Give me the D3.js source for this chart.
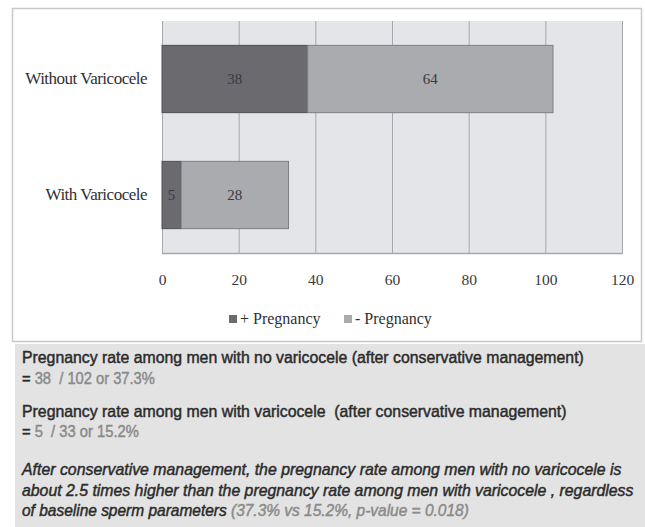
<!DOCTYPE html>
<html>
<head>
<meta charset="utf-8">
<script src="https://cdn.jsdelivr.net/npm/d3@7/dist/d3.min.js"></script>
<style>
  html, body { margin: 0; padding: 0; background: #ffffff; }
  svg { display: block; }
  .notes text { white-space: pre; }
</style>
</head>
<body>
<svg id="chart" width="645" height="527"></svg>
<script>
// Pregnancy outcomes after conservative management, by varicocele status
const categories = ["Without Varicocele", "With Varicocele"];
const positive = [38, 5];    // + Pregnancy
const negative = [64, 28];   // - Pregnancy
const seriesNames = ["+ Pregnancy", "- Pregnancy"];
const xTicks = [0, 20, 40, 60, 80, 100, 120];

const colors = { pos: "#6a6a6f", neg: "#a9abae", posStroke: "#4f4f55", negStroke: "#7d7f84" };

const svg = d3.select("#chart");

// outer chart frame
svg.append("rect")
  .attr("x", 12.5).attr("y", 8.5).attr("width", 629).attr("height", 333)
  .attr("fill", "#ffffff").attr("stroke", "#c8c8c8").attr("stroke-width", 1.5);

const plot = { left: 162, right: 622, top: 21, bottom: 253 };

const x = d3.scaleLinear().domain([0, 120]).range([plot.left, plot.right]);
const y = d3.scaleBand().domain(categories).range([plot.top, plot.bottom]).paddingInner(0.42).paddingOuter(0.21);

// plot background
svg.append("rect")
  .attr("x", plot.left).attr("y", plot.top)
  .attr("width", plot.right - plot.left).attr("height", plot.bottom - plot.top)
  .attr("fill", "#e4e5e9");

// vertical gridlines
svg.append("g").selectAll("line").data(xTicks).join("line")
  .attr("x1", d => x(d) + 0.5).attr("x2", d => x(d) + 0.5)
  .attr("y1", plot.top).attr("y2", plot.bottom)
  .attr("stroke", "#a7a8ae").attr("stroke-width", 1);

// bottom edge of plot
svg.append("line")
  .attr("x1", plot.left).attr("x2", plot.right + 1)
  .attr("y1", plot.bottom + 0.5).attr("y2", plot.bottom + 0.5)
  .attr("stroke", "#a7a8ae").attr("stroke-width", 1.5);

// stacked bars
const rows = categories.map((c, i) => ({ cat: c, pos: positive[i], neg: negative[i] }));
const bars = svg.append("g");
rows.forEach(r => {
  bars.append("rect")
    .attr("x", x(0)).attr("y", y(r.cat))
    .attr("width", x(r.pos) - x(0)).attr("height", y.bandwidth())
    .attr("fill", colors.pos).attr("stroke", colors.posStroke).attr("stroke-width", 1);
  bars.append("rect")
    .attr("x", x(r.pos)).attr("y", y(r.cat))
    .attr("width", x(r.pos + r.neg) - x(r.pos)).attr("height", y.bandwidth())
    .attr("fill", colors.neg).attr("stroke", colors.negStroke).attr("stroke-width", 1);
  // value labels
  bars.append("text")
    .attr("x", (x(0) + x(r.pos)) / 2).attr("y", y(r.cat) + y.bandwidth() / 2)
    .attr("dy", "0.35em").attr("text-anchor", "middle")
    .attr("font-family", "Liberation Serif, serif").attr("font-size", 15)
    .attr("fill", "#3a3a3e").text(r.pos);
  bars.append("text")
    .attr("x", (x(r.pos) + x(r.pos + r.neg)) / 2).attr("y", y(r.cat) + y.bandwidth() / 2)
    .attr("dy", "0.35em").attr("text-anchor", "middle")
    .attr("font-family", "Liberation Serif, serif").attr("font-size", 15)
    .attr("fill", "#3a3a3e").text(r.neg);
});

// category axis
const yAxis = svg.append("g")
  .attr("transform", `translate(${plot.left - 15},0)`)
  .call(d3.axisLeft(y).tickSize(0).tickPadding(0));
yAxis.select(".domain").remove();
yAxis.selectAll("text")
  .attr("font-family", "Liberation Serif, serif").attr("font-size", 17)
  .attr("fill", "#2f2f33").attr("letter-spacing", "-0.5");

// value axis
const xAxis = svg.append("g")
  .attr("transform", `translate(0,${plot.bottom})`)
  .call(d3.axisBottom(x).tickValues(xTicks).tickSize(0).tickPadding(21));
xAxis.select(".domain").remove();
xAxis.selectAll("text")
  .attr("font-family", "Liberation Serif, serif").attr("font-size", 15.5)
  .attr("fill", "#3a3a3e");

// legend
const legend = svg.append("g");
const legendItems = [
  { name: seriesNames[0], fill: colors.pos, x: 229, tx: 240 },
  { name: seriesNames[1], fill: colors.neg, x: 344, tx: 355 }
];
legendItems.forEach(it => {
  legend.append("rect").attr("x", it.x).attr("y", 315).attr("width", 8).attr("height", 8)
    .attr("fill", it.fill);
  legend.append("text").attr("x", it.tx).attr("y", 324)
    .attr("font-family", "Liberation Serif, serif").attr("font-size", 16)
    .attr("fill", "#2f2f33").text(it.name);
});

// notes panel
svg.append("rect")
  .attr("x", 15).attr("y", 344).attr("width", 630).attr("height", 183)
  .attr("fill", "#e3e3e3");

const rate = i => (100 * positive[i] / (positive[i] + negative[i])).toFixed(1) + "%";
const total = i => positive[i] + negative[i];

const notes = svg.append("g").attr("class", "notes")
  .attr("font-family", "Liberation Sans, Arial, sans-serif").attr("font-size", 16);
const dark = "#2b2b2b", grey = "#8a8a8a";

// each note line is fitted horizontally to its set width
function line(yPos, parts, opts = {}) {
  const t = notes.append("text").attr("x", 0).attr("y", 0)
    .attr("stroke-width", 0.45).attr("paint-order", "fill");
  if (opts.italic) t.attr("font-style", "italic");
  parts.forEach(p => {
    t.append("tspan").attr("fill", p.c).attr("stroke", p.c).text(p.s);
  });
  const natural = t.node().getComputedTextLength();
  const sx = opts.width / natural;
  t.attr("transform", `translate(22,${yPos}) scale(${sx},1)`);
}

line(363, [{ s: "Pregnancy rate among men with no varicocele (after conservative management)", c: dark }], { width: 562 });
line(384, [{ s: "= ", c: dark }, { s: `${positive[0]}  / ${total(0)} or ${rate(0)}`, c: grey }], { width: 133 });
line(417, [{ s: "Pregnancy rate among men with varicocele  (after conservative management)", c: dark }], { width: 545 });
line(437, [{ s: "= ", c: dark }, { s: `${positive[1]}  / ${total(1)} or ${rate(1)}`, c: grey }], { width: 117 });
line(475, [{ s: "After conservative management, the pregnancy rate among men with no varicocele is", c: dark }], { italic: true, width: 600 });
line(496, [{ s: "about 2.5 times higher than the pregnancy rate among men with varicocele , regardless", c: dark }], { italic: true, width: 612 });
line(516, [{ s: "of baseline sperm parameters ", c: dark }, { s: `(${rate(0)} vs ${rate(1)}, p-value = 0.018)`, c: grey }], { italic: true, width: 447 });
</script>
</body>
</html>
